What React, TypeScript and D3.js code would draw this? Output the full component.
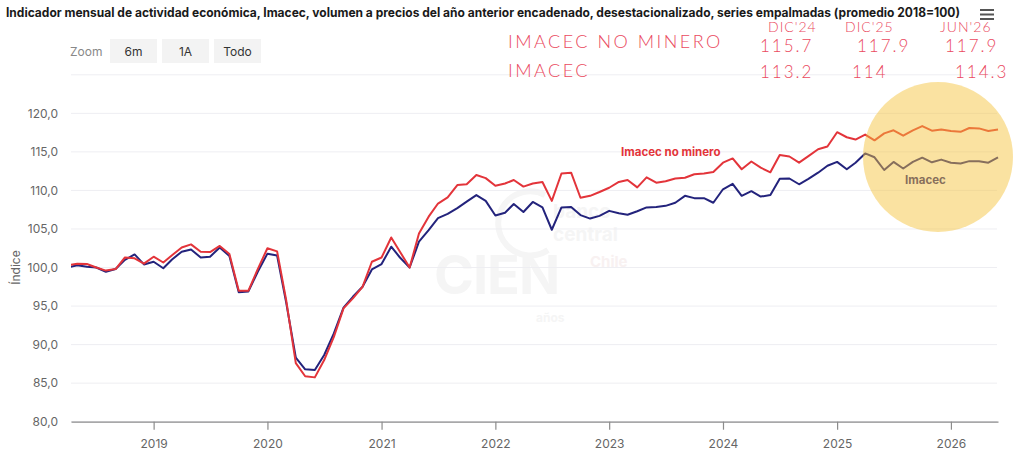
import * as d3 from "d3"
import { useRef, useEffect } from "react"

// monthly points, Apr 2018 .. Jun 2026
const startMonth = new Date(2018, 3, 1)
const endMonth = new Date(2026, 5, 1)

const imacecNoMinero = [
  100.3, 100.5, 100.45, 100.0, 99.6, 99.8, 101.3, 101.2, 100.5,
  101.4, 100.65, 101.6, 102.6, 103.0, 102.05, 102.0, 102.8, 101.75, 97.0, 97.0, 99.8,
  102.5, 102.1, 95.8, 87.6, 85.9, 85.75, 88.0, 91.0, 94.7, 96.0, 97.5, 100.75,
  101.3, 103.9, 102.05, 100.0, 104.4, 106.6, 108.3, 109.1, 110.7, 110.8, 112.0, 111.6,
  110.6, 110.9, 111.35, 110.5, 110.9, 111.1, 108.65, 112.2, 112.3, 109.05, 109.3, 109.8,
  110.35, 111.1, 111.35, 110.4, 111.7, 111.0, 111.2, 111.55, 111.65, 112.1, 112.2, 112.4,
  113.6, 114.15, 112.75, 113.75, 112.95, 112.35, 114.6, 114.4, 113.6, 114.45, 115.35, 115.7,
  117.55, 116.9, 116.6, 117.25, 116.5, 117.4, 117.8, 117.1, 117.8, 118.35, 117.75, 117.9,
  117.7, 117.6, 118.1, 118.05, 117.7, 117.9,
]

const imacec = [
  100.0, 100.3, 100.1, 100.0, 99.45, 99.8, 101.0, 101.7, 100.4,
  100.75, 99.9, 101.05, 102.05, 102.35, 101.3, 101.4, 102.6, 101.5, 96.8, 96.9, 99.45,
  101.8, 101.55, 95.5, 88.3, 86.8, 86.7, 88.65, 91.45, 94.8, 96.2, 97.5, 99.75,
  100.45, 102.7, 101.3, 100.0, 103.35, 104.85, 106.4, 106.95, 107.7, 108.55, 109.4, 108.65,
  106.75, 107.1, 108.25, 107.2, 108.5, 107.8, 104.9, 107.8, 107.85, 106.8, 106.35, 106.7,
  107.35, 107.05, 106.85, 107.3, 107.8, 107.85, 108.0, 108.4, 109.3, 109.0, 109.0, 108.4,
  110.15, 110.85, 109.3, 109.9, 109.2, 109.4, 111.5, 111.55, 110.8, 111.5, 112.3, 113.2,
  113.7, 112.75, 113.6, 114.8, 114.3, 112.65, 113.7, 112.85, 113.7, 114.25, 113.65, 114.0,
  113.6, 113.5, 113.8, 113.8, 113.6, 114.3,
]

const yTicks = [80, 85, 90, 95, 100, 105, 110, 115, 120]
const zoomButtons = ["6m", "1A", "Todo"]

const title =
  "Indicador mensual de actividad económica, Imacec, volumen a precios del año anterior encadenado, desestacionalizado, series empalmadas (promedio 2018=100)"

// handwritten notes
const noteHeaders = ["DIC'24", "DIC'25", "JUN'26"]
const noteNoMinero = ["115.7", "117.9", "117.9"]
const noteImacec = ["113.2", "114", "114.3"]

const RED = "#e3343a"
const NAVY = "#23237c"
const INK = "#ea4a60"

export default function App() {
  const xAxisRef = useRef<SVGGElement>(null)
  const yAxisRef = useRef<SVGGElement>(null)

  const width = 1024
  const height = 463
  const left = 71
  const right = 998
  const top = 74.8
  const bottom = 421.7

  const months = d3.timeMonth.range(startMonth, d3.timeMonth.offset(endMonth, 1))

  const x = d3
    .scaleTime()
    .domain([new Date(2018, 3, 11), endMonth])
    .range([left, right])

  const y = d3.scaleLinear().domain([80, 125]).range([bottom, top])

  const line = d3
    .line<number>()
    .x((_, i) => x(months[i]))
    .y((d) => y(d))

  useEffect(() => {
    if (xAxisRef.current) {
      const g = d3.select(xAxisRef.current)
      g.selectAll("*").remove()
      g.call(
        d3
          .axisBottom(x)
          .ticks(d3.timeYear.every(1))
          .tickFormat((d) => d3.timeFormat("%Y")(d as Date))
          .tickSize(8)
          .tickSizeOuter(0),
      )
      g.select(".domain").attr("stroke", "#8c8c8c").attr("stroke-width", 1.2)
      g.selectAll(".tick line").attr("stroke", "#8c8c8c").attr("stroke-width", 1.2)
      g.selectAll(".tick text")
        .attr("fill", "#666")
        .attr("font-size", 12)
        .attr("dy", "1.25em")
        .attr("font-family", "Inter, 'Liberation Sans', sans-serif")
    }
    if (yAxisRef.current) {
      const g = d3.select(yAxisRef.current)
      g.selectAll("*").remove()
      g.call(
        d3
          .axisLeft(y)
          .tickValues(yTicks)
          .tickFormat((d) => d3.format(".1f")(d as number).replace(".", ","))
          .tickSize(0),
      )
      g.select(".domain").remove()
      g.selectAll(".tick text")
        .attr("fill", "#666")
        .attr("font-size", 12)
        .attr("dx", "-10")
        .attr("font-family", "Inter, 'Liberation Sans', sans-serif")
    }
  }, [])

  const grid = [...yTicks, 125]

  return (
    <svg
      width={width}
      height={height}
      style={{ position: "absolute", left: 0, top: 0, background: "#fff" }}
      fontFamily="Inter, 'Liberation Sans', sans-serif"
    >
      <defs>
        <clipPath id="plot">
          <rect x={left} y={0} width={right - left + 2} height={bottom} />
        </clipPath>
      </defs>

      <text x={6} y={17} fontSize={12.5} fontWeight={700} fill="#1a1a1a" textLength={954} lengthAdjust="spacingAndGlyphs">
        {title}
      </text>

      {/* menu icon */}
      {[10, 14.5, 19].map((yy) => (
        <line key={yy} x1={980} x2={994} y1={yy} y2={yy} stroke="#555" strokeWidth={2} />
      ))}

      {/* zoom buttons */}
      <text x={70} y={56} fontSize={12} fill="#888">Zoom</text>
      {zoomButtons.map((b, i) => (
        <g key={b}>
          <rect x={110 + i * 52} y={39} width={47} height={24} fill="#f3f3f3" />
          <text x={133.5 + i * 52} y={56} fontSize={12} fill="#333" textAnchor="middle">{b}</text>
        </g>
      ))}

      {/* watermark */}
      <g fill="#f5f5f5" fontWeight={700}>
        <path d="M 545 195 A 32 32 0 1 0 548 250" fill="none" stroke="#f5f5f5" strokeWidth={6} />
        <text x={553} y={218} fontSize={19}>banco</text>
        <text x={553} y={241} fontSize={19}>central</text>
        <text x={590} y={267} fontSize={15} fill="#f8f1f1">Chile</text>
        <text x={434} y={294} fontSize={54} letterSpacing={-1}>CIEN</text>
        <text x={536} y={322} fontSize={12}>años</text>
      </g>

      {/* grid */}
      {grid.map((t) => (
        <line key={t} x1={left} x2={right - 1} y1={y(t)} y2={y(t)} stroke="#eeeef2" strokeWidth={1} />
      ))}

      <g ref={yAxisRef} transform={`translate(${left},0)`} />
      <g ref={xAxisRef} transform={`translate(0,${bottom})`} />

      <text
        transform={`translate(20,${(y(80) + y(120)) / 2}) rotate(-90)`}
        textAnchor="middle"
        fontSize={12}
        fill="#666"
      >
        Índice
      </text>

      <g clipPath="url(#plot)" fill="none" strokeWidth={2} strokeLinejoin="round">
        <path d={line(imacec) ?? ""} stroke={NAVY} />
        <path d={line(imacecNoMinero) ?? ""} stroke={RED} />
      </g>

      <text x={621} y={156} fontSize={11.5} fontWeight={700} fill={RED}>Imacec no minero</text>
      <text x={905} y={184} fontSize={11.5} fontWeight={700} fill={NAVY}>Imacec</text>

      {/* highlight circle */}
      <circle cx={938} cy={157} r={75} fill="#f5c33a" fillOpacity={0.48} />

      {/* handwritten notes */}
      <g fill={INK} fontFamily="Lato, 'Open Sans', sans-serif" fontWeight={300}>
        <text x={508} y={48} fontSize={18} letterSpacing={2.5}>IMACEC NO MINERO</text>
        <text x={508} y={77} fontSize={18} letterSpacing={2.5}>IMACEC</text>
        {noteHeaders.map((h, i) => (
          <text key={h} x={[768, 845, 940][i]} y={32} fontSize={14} letterSpacing={1}>{h}</text>
        ))}
        {noteNoMinero.map((v, i) => (
          <text key={"n" + i} x={[760, 857, 945][i]} y={52} fontSize={17} letterSpacing={2}>{v}</text>
        ))}
        {noteImacec.map((v, i) => (
          <text key={"i" + i} x={[760, 852, 955][i]} y={78} fontSize={17} letterSpacing={2}>{v}</text>
        ))}
      </g>
    </svg>
  )
}
